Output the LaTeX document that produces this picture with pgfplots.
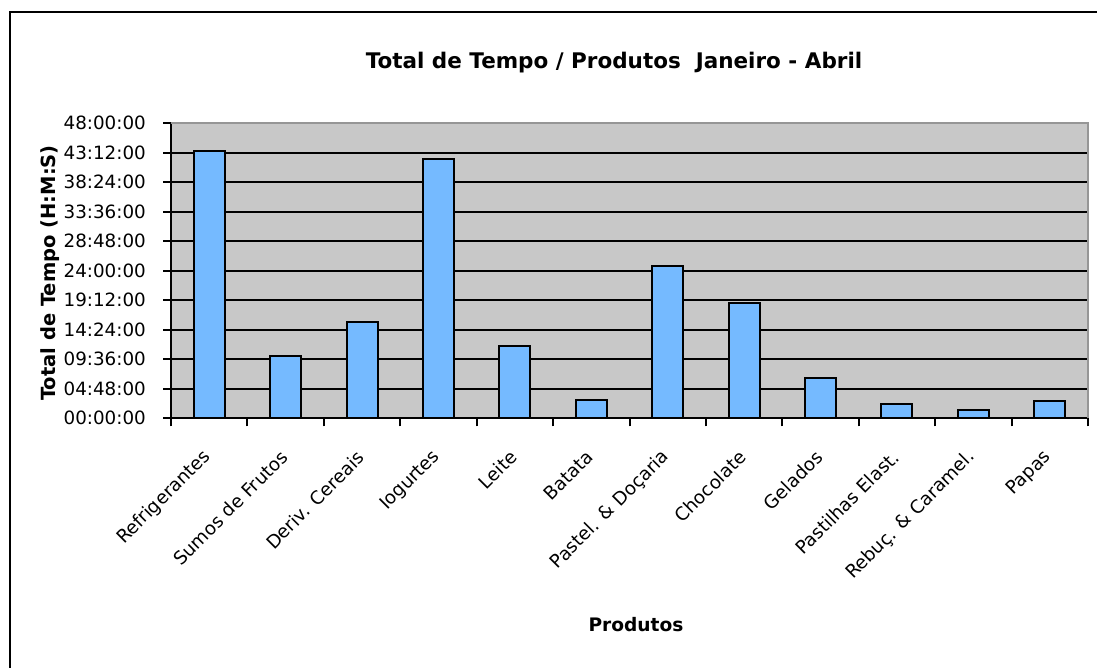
\documentclass[border=0pt]{standalone}
\usepackage{pgfplots}
\pgfplotsset{compat=1.18}
\usepackage{fontspec}
\setmainfont{DejaVu Sans}
\definecolor{barblue}{RGB}{117,186,255}
\definecolor{plotgray}{RGB}{200,200,200}
\definecolor{bordergray}{RGB}{150,150,150}
\begin{document}
\begin{tikzpicture}
\useasboundingbox (0pt,0pt) rectangle (1097pt,668pt);
\draw[line width=2.5pt,black] (10pt,0pt) -- (10pt,656pt) -- (1097pt,656pt);
\node[font=\bfseries\fontsize{21.5}{25}\selectfont] at (614pt,605pt) {Total de Tempo / Produtos\ \ Janeiro - Abril};
\node[font=\bfseries\fontsize{19.5}{23}\selectfont,rotate=90] at (50pt,395pt) {Total de Tempo (H:M:S)};
\node[font=\bfseries\fontsize{18.6}{22}\selectfont] at (636pt,43pt) {Produtos};
\begin{axis}[
  at={(171pt,249.7pt)}, anchor=south west,
  scale only axis, width=917pt, height=295pt,
  xmin=-0.5, xmax=11.5, ymin=0, ymax=48,
  font=\fontsize{18.3}{22}\selectfont,
  /pgf/number format/assume math mode=true,
  axis lines*=left,
  axis line style={-, black, line width=2pt},
  axis background/.style={fill=plotgray},
  ytick={0,4.8,9.6,14.4,19.2,24,28.8,33.6,38.4,43.2,48},
  yticklabels={00:00:00,04:48:00,09:36:00,14:24:00,19:12:00,24:00:00,28:48:00,33:36:00,38:24:00,43:12:00,48:00:00},
  xtick={0,1,2,3,4,5,6,7,8,9,10,11},
  xticklabels={Refrigerantes,Sumos de Frutos,Deriv. Cereais,Iogurtes,Leite,Batata,Pastel. \& Doçaria,Chocolate,Gelados,Pastilhas Elast.,Rebuç. \& Caramel.,Papas},
  minor xtick={-0.5,0.5,...,11.5},
  tick align=outside,
  major tick length=8pt, minor tick length=8pt,
  major x tick style={draw=none},
  every tick/.style={black, line width=2pt},
  minor x tick style={black, line width=2pt},
  major y tick style={black, line width=2pt},
  ymajorgrids,
  major grid style={black, line width=2pt},
  every tick label/.append style={font=\fontsize{18.3}{22}\selectfont},
  yticklabel style={inner sep=0pt, xshift=-17pt},
  xticklabel style={rotate=45, anchor=east, inner sep=0pt, xshift=-20.5pt, yshift=-18.6pt},
  clip=false,
]
\addplot[ybar, bar width=31pt, bar shift=0pt, fill=barblue, draw=black, line width=2pt]
  coordinates {(0,43.54) (1,10.14) (2,15.67) (3,42.14) (4,11.71) (5,3.03) (6,24.73) (7,18.71) (8,6.56) (9,2.33) (10,1.35) (11,2.80)};
\draw[bordergray, line width=2pt] (rel axis cs:0,1) -- (rel axis cs:1,1) -- (rel axis cs:1,0);
\end{axis}
\end{tikzpicture}
\end{document}
